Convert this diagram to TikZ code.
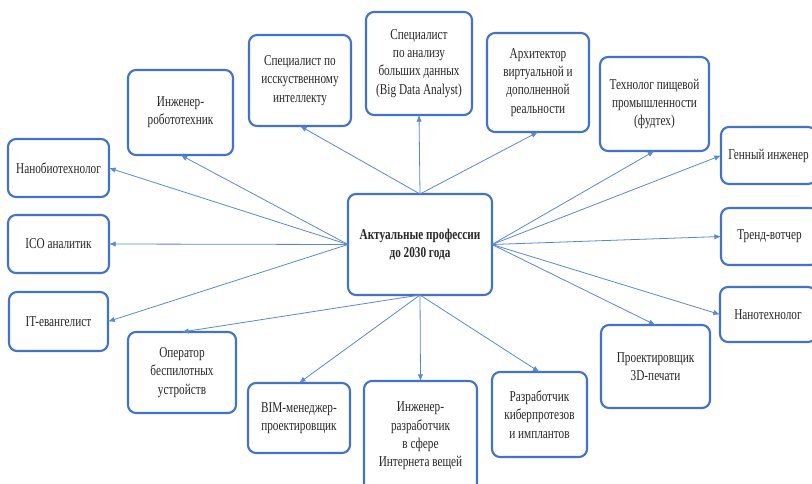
\documentclass[tikz,border=0pt]{standalone}
\usepackage{fontspec}
\setmainfont{Liberation Serif}[FakeStretch=0.75]
\usetikzlibrary{arrows.meta}
\definecolor{boxc}{HTML}{4472C4}
\definecolor{linec}{HTML}{5B88D2}
\begin{document}
\begin{tikzpicture}[x=0.75pt,y=-0.75pt,
  box/.style={draw=boxc, line width=1.6pt, rounded corners=6pt, fill=white, align=center,
    inner sep=0pt, outer sep=0pt, font=\fontsize{11.25}{13.7}\selectfont, text=black!85},
  sz/.style 2 args={minimum width=#1*0.75pt, minimum height=#2*0.75pt},
  arr/.style={draw=linec, line width=0.6pt, -{Latex[length=5pt,width=4pt]}}]
\useasboundingbox (0,0) rectangle (812,484);
\fill[white] (0,0) rectangle (812,484);

\node[box, sz={144}{101}] (c) at (420,244.5) {\textbf{Актуальные профессии}\\\textbf{до 2030 года}};

\node[box, sz={101}{58}] (nanobio) at (58.5,168) {Нанобиотехнолог};
\node[box, sz={105}{85}] (robot) at (180.5,112.5) {Инженер-\\робототехник};
\node[box, sz={102}{91}] (ai) at (300,80.5) {Специалист по\\исскуственному\\интеллекту};
\node[box, sz={106}{103}] (bigdata) at (419,63.5) {Специалист\\по анализу\\больших данных\\(Big Data Analyst)};
\node[box, sz={102}{99}] (arch) at (538,82.5) {Архитектор\\виртуальной и\\дополненной\\реальности};
\node[box, sz={109}{94}] (food) at (654.5,104) {Технолог пищевой\\промышленности\\(фудтех)};
\node[box, sz={95}{57}] (gene) at (768.5,155.5) {Генный инженер};
\node[box, sz={101}{58}] (ico) at (58.5,244) {ICO аналитик};
\node[box, sz={99}{59}] (it) at (58.5,321.5) {IT-евангелист};
\node[box, sz={97}{57}] (trend) at (769.5,236.5) {Тренд-вотчер};
\node[box, sz={96}{55}] (nanotech) at (768,314.5) {Нанотехнолог};
\node[box, sz={108}{81}] (oper) at (182,372.5) {Оператор\\беспилотных\\устройств};
\node[box, sz={102}{70}] (bim) at (299,418) {BIM-менеджер-\\проектировщик};
\node[box, sz={113}{110}] (iot) at (420.5,436) {Инженер-\\разработчик\\в сфере\\Интернета вещей};
\node[box, sz={95}{85}] (cyber) at (539.5,414.5) {Разработчик\\киберпротезов\\и имплантов};
\node[box, sz={109}{83}] (print) at (655.5,366.5) {Проектировщик\\3D-печати};

\draw[arr] (c.north) -- (bigdata.south);
\draw[arr] (c.north) -- (ai.south);
\draw[arr] (c.north) -- (arch.south);
\draw[arr] (c.west) -- (nanobio.east);
\draw[arr] (c.west) -- (robot.south);
\draw[arr] (c.west) -- (ico.east);
\draw[arr] (c.west) -- (it.east);
\draw[arr] (c.east) -- (food.south);
\draw[arr] (c.east) -- (gene.west);
\draw[arr] (c.east) -- (trend.west);
\draw[arr] (c.east) -- (nanotech.west);
\draw[arr] (c.east) -- (print.north);
\draw[arr] (c.south) -- (oper.north);
\draw[arr] (c.south) -- (bim.north);
\draw[arr] (c.south) -- (iot.north);
\draw[arr] (c.south) -- (cyber.north);
\end{tikzpicture}
\end{document}
